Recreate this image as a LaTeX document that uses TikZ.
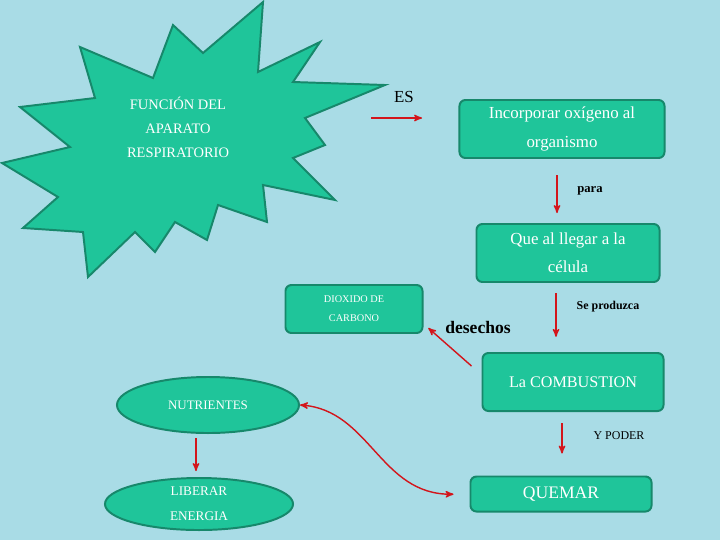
\documentclass[tikz,border=0pt]{standalone}
\usepackage{fontspec}
\setmainfont{Liberation Serif}
\usetikzlibrary{arrows}
\usetikzlibrary{positioning}
\usetikzlibrary{shapes.geometric}
\definecolor{fondo}{HTML}{A9DCE6}
\definecolor{verde}{HTML}{1FC59A}
\definecolor{borde}{HTML}{17886B}
\definecolor{flecha}{HTML}{D3151B}

\begin{document}
\begin{tikzpicture}[x=0.025cm,y=-0.025cm,>=stealth',
                    caja/.style={rectangle,rounded corners=0.15cm,draw=borde,line width=1.4pt,
                                 fill=verde,text=white,align=center,inner sep=0pt},
                    ovalo/.style={ellipse,draw=borde,line width=1.4pt,fill=verde,
                                  text=white,align=center,inner sep=0pt},
                    flechita/.style={->,draw=flecha,line width=1pt},
                    etiqueta/.style={text=black,inner sep=0pt}]

  \fill[fondo] (0,0) rectangle (720,540);

  % estrella
  \filldraw[fill=verde,draw=borde,line width=1.4pt,line join=miter]
    (263,2) -- (258,72) -- (320,42) -- (293,82) -- (385,85) -- (305,118)
    -- (325,145) -- (293,158) -- (335,200) -- (263,185) -- (267,222)
    -- (218,205) -- (207,240) -- (175,222) -- (155,252) -- (135,232)
    -- (88,277) -- (83,232) -- (23,228) -- (58,197) -- (2,163) -- (70,147)
    -- (20,107) -- (95,98) -- (80,47) -- (153,78) -- (173,25) -- (203,53) -- cycle;
  \node[text=white,align=center,font=\fontsize{10.3}{17}\selectfont] (F) at (178,127)
    {FUNCIÓN DEL\\APARATO\\RESPIRATORIO};

  \node[caja,minimum width=5.125cm,minimum height=1.45cm,font=\fontsize{12}{20}\selectfont]
    (I) at (562,129) {Incorporar oxígeno al\\organismo};
  \node[caja,minimum width=4.575cm,minimum height=1.45cm,font=\fontsize{12}{20}\selectfont]
    (Q) at (568,253) {Que al llegar a la\\célula};
  \node[caja,minimum width=3.425cm,minimum height=1.2cm,font=\fontsize{7.3}{13.5}\selectfont]
    (D) at (354,309) {DIOXIDO DE\\CARBONO};
  \node[caja,minimum width=4.525cm,minimum height=1.45cm,font=\fontsize{11.5}{14}\selectfont]
    (C) at (573,382) {La COMBUSTION};
  \node[caja,minimum width=4.525cm,minimum height=0.875cm,font=\fontsize{12.5}{14}\selectfont]
    (QM) at (561,494) {QUEMAR};
  \node[ovalo,minimum width=4.55cm,minimum height=1.4cm,font=\fontsize{9.2}{14}\selectfont]
    (N) at (208,405) {NUTRIENTES};
  \node[ovalo,minimum width=4.7cm,minimum height=1.3cm,font=\fontsize{9.4}{18}\selectfont]
    (L) at (199,504) {LIBERAR\\ENERGIA};

  % etiquetas
  \node[etiqueta,font=\fontsize{12}{14}\selectfont] (es) at (404,97) {ES};
  \node[etiqueta,font=\bfseries\fontsize{9}{11}\selectfont] (para) at (590,191) {para};
  \node[etiqueta,font=\bfseries\fontsize{8.5}{11}\selectfont] (sp) at (608,307) {Se produzca};
  \node[etiqueta,font=\bfseries\fontsize{12.5}{14}\selectfont] (des) at (478,327) {desechos};
  \node[etiqueta,font=\fontsize{8.5}{11}\selectfont] (yp) at (619,436) {Y PODER};

  \coordinate (es1) at (371,118);
  \coordinate (es2) at (422,118);

  \draw[flechita] (es1) -- (es2);
  \draw[flechita,shorten <=0.4cm,shorten >=0.25cm]
    ([xshift=-0.125cm]I.south) -- ([xshift=-0.125cm]I.south |- Q.north);
  \draw[flechita,shorten <=0.25cm,shorten >=0.38cm]
    ([xshift=-0.3cm]Q.south) -- ([xshift=-0.3cm]Q.south |- C.north);
  \draw[flechita]
    ([xshift=-0.25cm,yshift=0.4cm]C.west) -- ([xshift=0.12cm,yshift=0.15cm]D.south east);
  \draw[flechita,shorten <=0.1cm,shorten >=0.15cm]
    ([xshift=-0.3cm]N.south) -- ([xshift=-0.3cm]N.south |- L.north);
  \draw[flechita,shorten <=0.28cm,shorten >=0.55cm]
    ([xshift=-0.275cm]C.south) -- ([xshift=-0.275cm]C.south |- QM.north);
  \draw[flechita,<->,shorten >=0.4cm]
    (N.east) .. controls (370,410) and (380,495) .. (QM.west);
\end{tikzpicture}
\end{document}
